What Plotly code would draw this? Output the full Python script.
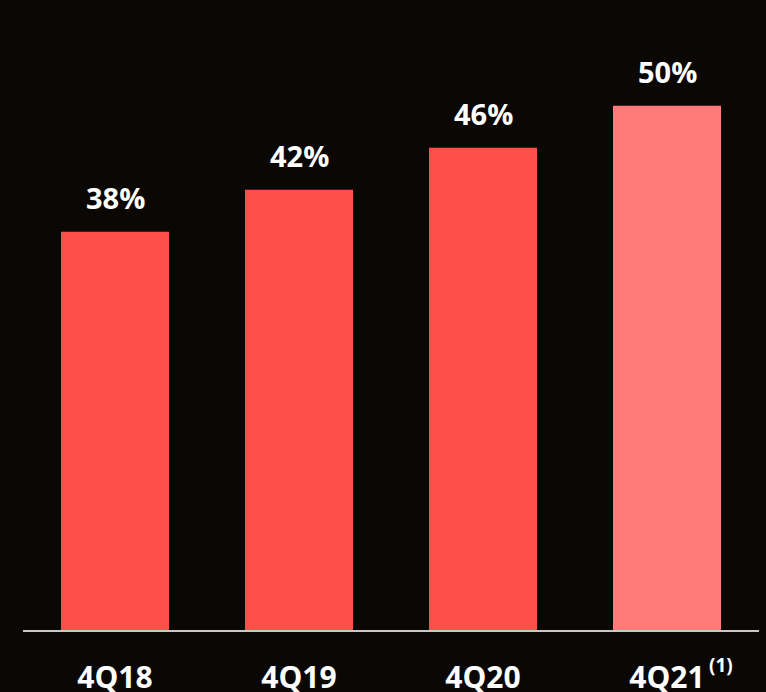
import plotly.graph_objects as go

categories = ["4Q18", "4Q19", "4Q20", "4Q21"]
values = [38, 42, 46, 50]
labels = ["38%", "42%", "46%", "50%"]
colors = ["#FF4F4B", "#FF4F4B", "#FF4F4B", "#FF7B79"]
footnote = "(1)"

fig = go.Figure()
fig.add_trace(go.Bar(
    x=categories, y=values, marker=dict(color=colors, line=dict(width=0)),
    width=0.587, hoverinfo="skip", cliponaxis=False,
))

for c, v, t in zip(categories, values, labels):
    fig.add_annotation(x=c, y=v, text=t, showarrow=False, yanchor="bottom",
                       yshift=13, font=dict(family="Open Sans", size=29, color="white", weight="bold"))

fig.add_annotation(x=categories[-1], y=0, text=footnote, showarrow=False,
                   xanchor="left", yanchor="top", xshift=40, yshift=-20,
                   font=dict(family="Open Sans", size=19, color="white", weight="bold"))

fig.update_layout(
    width=766, height=692,
    margin=dict(l=23, r=7, t=0, b=62, autoexpand=False),
    paper_bgcolor="#0b0705", plot_bgcolor="rgba(0,0,0,0)",
    showlegend=False,
    xaxis=dict(range=[-0.5, 3.5], showgrid=False, zeroline=False, showline=True,
               automargin=False,
               linecolor="#c8c8c8", linewidth=2, ticks="outside", ticklen=20,
               tickcolor="rgba(0,0,0,0)",
               tickfont=dict(family="Open Sans", size=30, color="white", weight="bold")),
    yaxis=dict(range=[0, 60.1], visible=False, fixedrange=True, automargin=False),
)

fig.write_html("out.html")
